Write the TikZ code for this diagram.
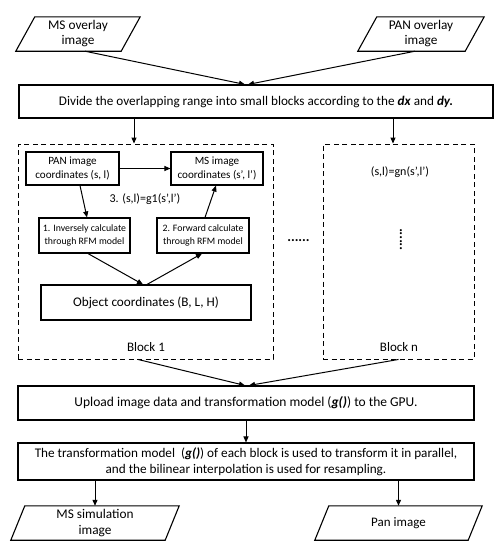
\documentclass[tikz,border=0pt]{standalone}
\usepackage{fontspec}
\setmainfont{Carlito}
\usetikzlibrary{arrows.meta,calc}
\begin{document}
\begin{tikzpicture}[x=1pt,y=-1pt,
  every node/.style={font=\fontsize{11}{13}\selectfont, align=center, inner sep=0pt},
  box/.style={draw, line width=1.1pt, minimum height=#1},
  dbox/.style={draw, line width=0.9pt, dash pattern=on 5pt off 3.5pt},
  pnode/.style={minimum height=34pt},
  arr/.style={line width=1pt, -{Triangle[length=6pt,width=5pt]}},
  para/.style={line width=1.1pt}
]
\useasboundingbox (0,0) rectangle (498,550);

% input parallelograms
\node[pnode, minimum width=105pt, font=\fontsize{13.3}{15}\selectfont] (ms) at (78,34) {MS overlay\\image};
\draw[para] ($(ms.south west)+(-9.5,0)$) -- ($(ms.north west)+(9.5,0)$) -- ($(ms.north east)+(9.5,0)$) -- ($(ms.south east)+(-9.5,0)$) -- cycle;
\node[pnode, minimum width=107pt, font=\fontsize{13.3}{15}\selectfont] (pan) at (421,34) {PAN overlay\\image};
\draw[para] ($(pan.south west)+(-9.5,0)$) -- ($(pan.north west)+(9.5,0)$) -- ($(pan.north east)+(9.5,0)$) -- ($(pan.south east)+(-9.5,0)$) -- cycle;

% divide box
\node[box=33pt, minimum width=474pt, font=\fontsize{13.2}{15}\selectfont] (divide) at (256,101.5)
  {Divide the overlapping range into small blocks according to the \textbf{\textit{dx}} and \textbf{\textit{dy.}}};
\draw[arr] ([xshift=7]ms.south) -- ([xshift=-11]divide.north);
\draw[arr] ([xshift=-6]pan.south) -- ([xshift=-8]divide.north);

% blocks
\node[dbox, minimum width=255pt, minimum height=215pt] (block1) at (145.5,251.5) {};
\node[dbox, minimum width=151pt, minimum height=215pt] (blockn) at (398.5,251.5) {};
\coordinate (d1) at (134,118);
\coordinate (d2) at (393,118);
\draw[arr] (d1) -- (d1 |- block1.north);
\draw[arr] (d2) -- (d2 |- blockn.north);

% block 1 content
\node[box=33pt, minimum width=93pt, font=\fontsize{11.1}{13.5}\selectfont] (panc) at (72.5,168.5) {PAN image\\coordinates (s, l)};
\node[box=33pt, minimum width=92pt, font=\fontsize{11.1}{13.5}\selectfont] (msc) at (217,168.5) {MS image\\coordinates (s', l')};
\node[box=35pt, minimum width=91pt, font=\fontsize{9.8}{13}\selectfont] (inv) at (84.5,235.5) {1. Inversely calculate\\through RFM model};
\node[box=35pt, minimum width=92pt, font=\fontsize{9.8}{13}\selectfont] (fwd) at (203,235.5) {2. Forward calculate\\through RFM model};
\node[box=35pt, minimum width=210pt, font=\fontsize{13.2}{14}\selectfont] (obj) at (146,302.5) {Object coordinates (B, L, H)};
\node[font=\fontsize{12}{13}\selectfont] (g1) at (145,199) {3. (s,l)=g1(s',l')};
\node[font=\fontsize{13}{14}\selectfont] (b1) at (146,347) {Block 1};

\draw[arr] (panc.east) -- (msc.west);
\draw[arr] ([xshift=7.5]panc.south) -- ([xshift=2.5]inv.north);
\draw[arr] ([xshift=2]fwd.north) -- ([xshift=-1]msc.south);
\draw[arr] ([xshift=3.5]inv.south) -- ([xshift=-3]obj.north);
\draw[arr] ([xshift=1]obj.north) -- ([xshift=-1]fwd.south);

% block n content
\node[font=\fontsize{12}{13}\selectfont] (gn) at (400,172) {(s,l)=gn(s',l')};
\node[font=\fontsize{13}{14}\selectfont] (bn) at (399,347) {Block n};
\node[rotate=90, font=\fontsize{14}{14}\selectfont\bfseries] (vdots) at (401,239.5) {......};
\node[font=\fontsize{14}{14}\selectfont\bfseries] (hdots) at (298.5,241) {......};

% upload
\node[box=34pt, minimum width=456pt, font=\fontsize{13.5}{15}\selectfont] (upload) at (246,403)
  {Upload image data and transformation model (\textbf{\textit{g()}}) to the GPU.};
\draw[arr] ([xshift=-7.5]block1.south) -- ([xshift=-1]upload.north);
\draw[arr] (blockn.south) -- ([xshift=3]upload.north);

% transformation
\node[box=37pt, minimum width=456pt, font=\fontsize{13.2}{16.5}\selectfont] (trans) at (246,461.5)
  {The transformation model\ \ (\textbf{\textit{g()}}) of each block is used to transform it in parallel,\\and the bilinear interpolation is used for resampling.};
\draw[arr] (upload.south) -- (trans.north);

% outputs
\node[pnode, minimum width=154pt, font=\fontsize{13.3}{15.5}\selectfont] (mssim) at (95,523) {MS simulation\\image};
\draw[para] ($(mssim.south west)+(-7,0)$) -- ($(mssim.north west)+(7,0)$) -- ($(mssim.north east)+(7,0)$) -- ($(mssim.south east)+(-7,0)$) -- cycle;
\node[pnode, minimum width=153pt, font=\fontsize{13}{15}\selectfont] (panimg) at (398.5,523) {Pan image};
\draw[para] ($(panimg.south west)+(-7,0)$) -- ($(panimg.north west)+(7,0)$) -- ($(panimg.north east)+(7,0)$) -- ($(panimg.south east)+(-7,0)$) -- cycle;
\coordinate (t1) at (95,480);
\coordinate (t2) at (398.5,480);
\draw[arr] (t1) -- (mssim.north);
\draw[arr] (t2) -- (panimg.north);
\end{tikzpicture}
\end{document}
